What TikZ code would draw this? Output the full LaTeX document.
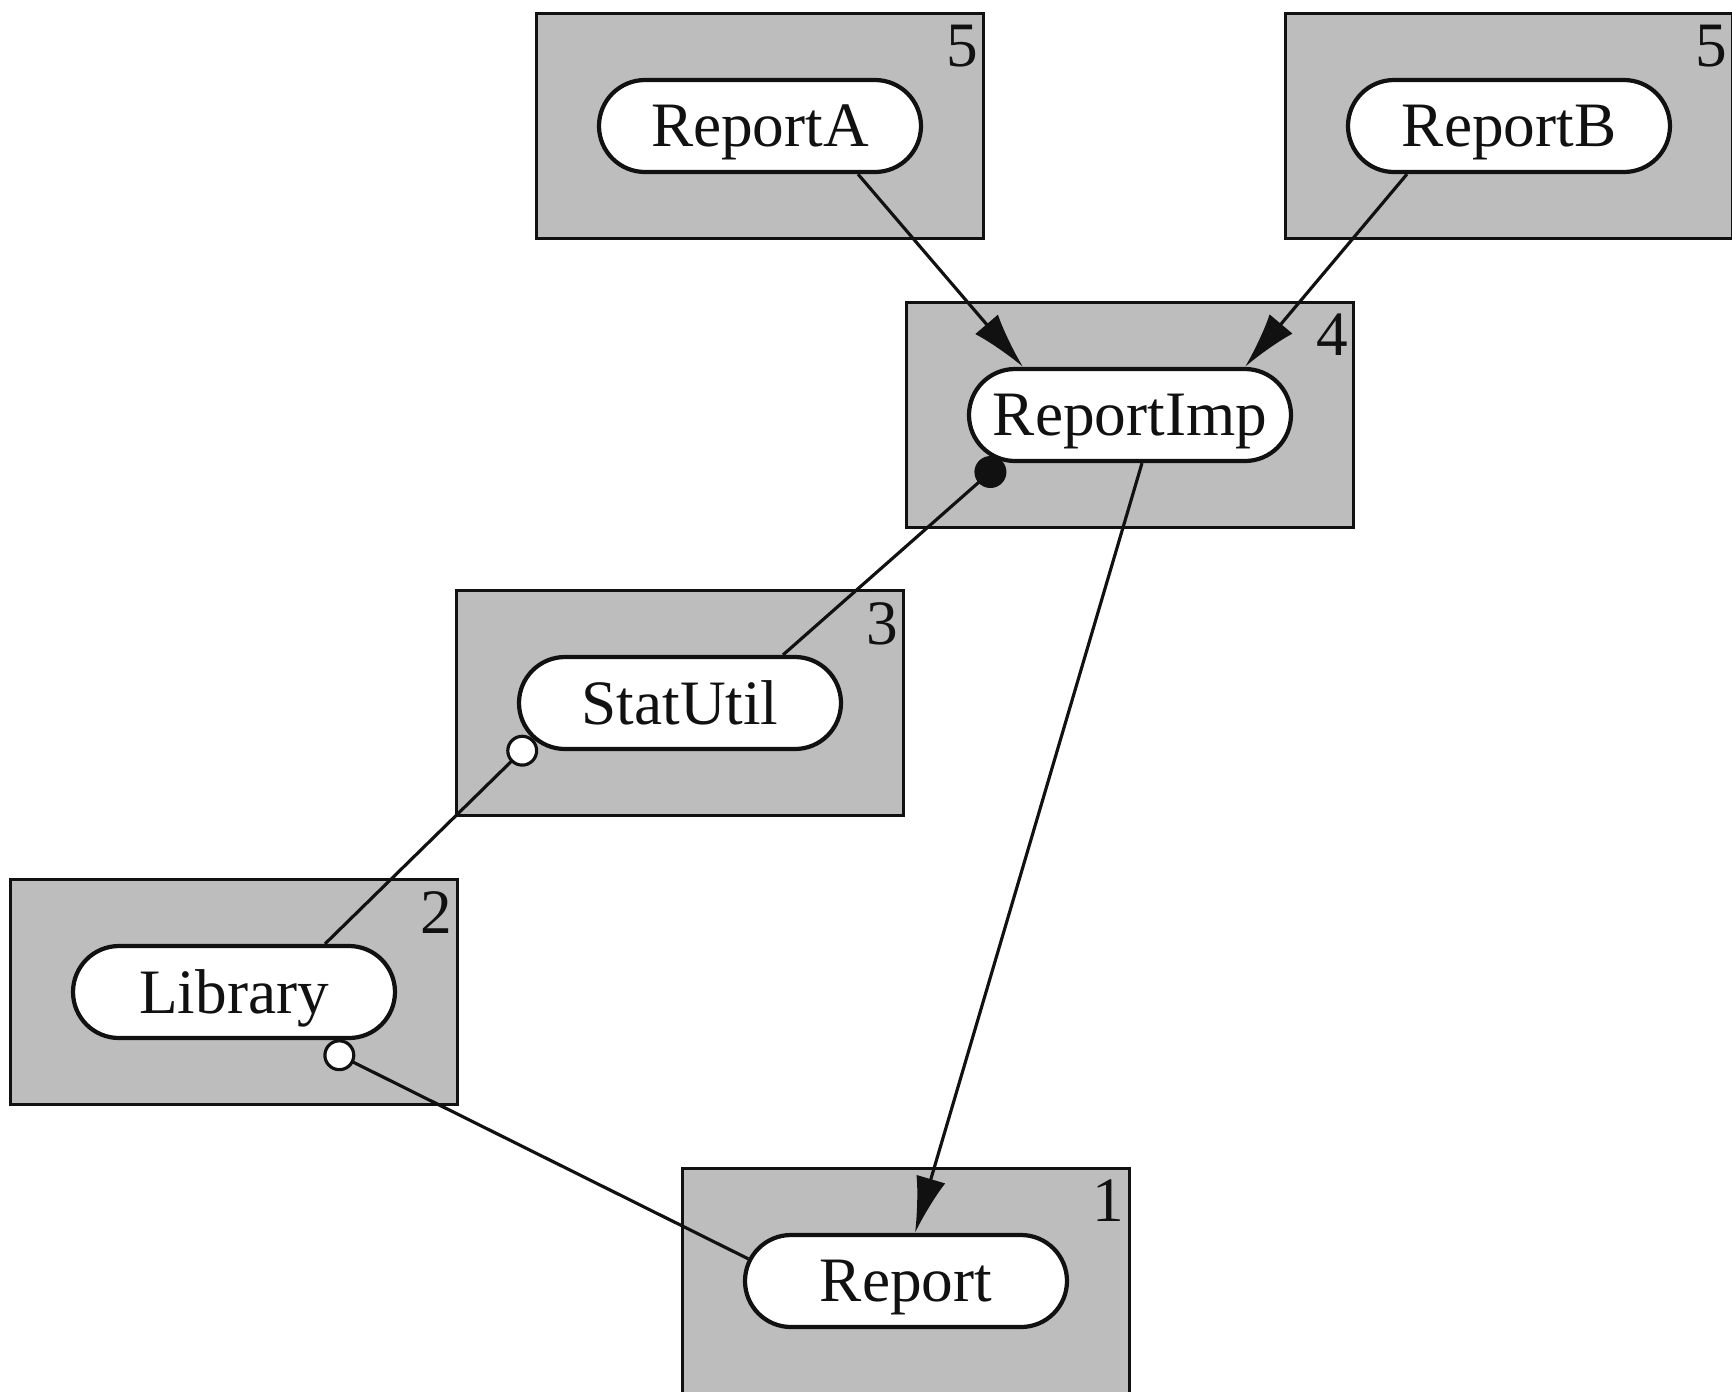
\documentclass[tikz,border=0pt]{standalone}
\usepackage{fontspec}
\setmainfont{Liberation Serif}
\usetikzlibrary{arrows.meta,calc,shapes.misc}
\definecolor{shade}{HTML}{BDBDBD}
\definecolor{ink}{HTML}{111111}
\tikzset{
  >={Latex[length=5.6mm,width=3mm]},
  every node/.style={font=\fontsize{18}{21}\selectfont,text=ink},
  layer/.style={draw=ink,line width=0.6pt,fill=shade,minimum width=44.7mm,minimum height=22.5mm,inner sep=0pt},
  unit/.style={draw=ink,line width=1.2pt,fill=white,rounded rectangle,minimum width=32.2mm,minimum height=9.2mm,inner sep=0pt,text depth=0pt},
  levelno/.style={anchor=north east,inner sep=0pt},
  arrow/.style={->,line width=0.9pt,draw=ink},
  uses/.style={-{Circle[length=3.2mm,fill=ink]},line width=0.9pt,draw=ink},
  imports/.style={-{Circle[length=3.2mm,fill=white]},line width=0.9pt,draw=ink},
}

\begin{document}
\begin{tikzpicture}[x=0.1mm,y=-0.1mm]
\useasboundingbox (0,0) rectangle (1732,1392);

% layers
\node[layer] (l5a) at (760,126) {};
\node[layer] (l5b) at (1509,126) {};
\node[layer] (l4) at (1130,415) {};
\node[layer] (l3) at (680,703) {};
\node[layer] (l2) at (234,992) {};
\node[layer] (l1) at (906,1281) {};

% units
\node[unit] (reporta) at (l5a) {ReportA};
\node[unit] (reportb) at (l5b) {ReportB};
\node[unit] (reportimp) at (l4) {ReportImp};
\node[unit] (statutil) at (l3) {StatUtil};
\node[unit] (library) at (l2) {Library};
\node[unit] (report) at (l1) {Report};

% level numbers
\node[levelno] (n5a) at ($(l5a.north east)+(-6,12)$) {5};
\node[levelno] (n5b) at ($(l5b.north east)+(-6,12)$) {5};
\node[levelno] (n4) at ($(l4.north east)+(-6,12)$) {4};
\node[levelno] (n3) at ($(l3.north east)+(-6,12)$) {3};
\node[levelno] (n2) at ($(l2.north east)+(-6,12)$) {2};
\node[levelno] (n1) at ($(l1.north east)+(-6,12)$) {1};

% dependencies
\draw[arrow] ($(reporta.south)+(98,0)$) -- ($(reportimp.north)+(-107,0)$);
\draw[arrow] ($(reportb.south)+(-102,0)$) -- (reportimp.north east);
\draw[arrow] ($(reportimp.south)+(12,0)$) -- ($(report.north)+(9,0)$);
\draw[uses] ($(statutil.north)+(103,0)$) -- (reportimp.200);
\draw[imports] ($(library.north)+(91,0)$) -- (statutil.194);
\draw[imports] (report.172) -- ($(library.south)+(91,8)$);

\end{tikzpicture}
\end{document}
